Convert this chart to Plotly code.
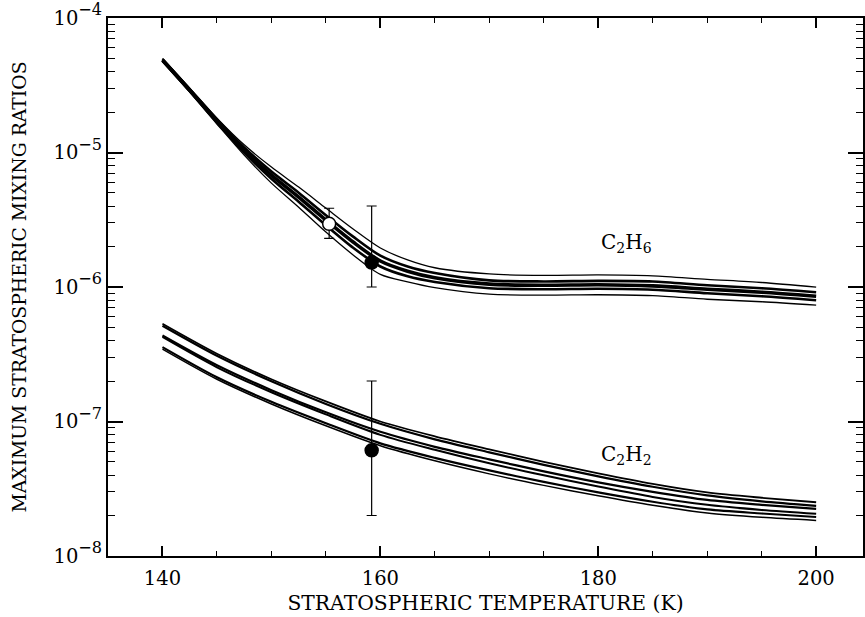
import math
import plotly.graph_objects as go

# ---------------- data ----------------
# C2H6 family of model curves (temperature grid, K)
T6 = [140, 142.5, 145, 147.5, 150, 152.5, 155, 157.5, 160, 162.5, 165, 170, 175, 180, 185, 190, 195, 200]
c2h6_outer_hi = [5.00e-5, 3.01e-5, 1.80e-5, 1.14e-5, 7.79e-6, 5.53e-6, 3.86e-6, 2.70e-6, 1.95e-6, 1.59e-6, 1.39e-6, 1.25e-6, 1.22e-6, 1.23e-6, 1.21e-6, 1.14e-6, 1.08e-6, 9.97e-7]
c2h6_inner_hi = [4.94e-5, 2.96e-5, 1.76e-5, 1.09e-5, 7.21e-6, 5.03e-6, 3.42e-6, 2.37e-6, 1.71e-6, 1.42e-6, 1.27e-6, 1.12e-6, 1.10e-6, 1.11e-6, 1.10e-6, 1.03e-6, 9.80e-7, 9.15e-7]
c2h6_mid      = [4.87e-5, 2.91e-5, 1.71e-5, 1.04e-5, 6.79e-6, 4.66e-6, 3.14e-6, 2.16e-6, 1.56e-6, 1.31e-6, 1.17e-6, 1.05e-6, 1.03e-6, 1.04e-6, 1.02e-6, 9.63e-7, 9.15e-7, 8.54e-7]
c2h6_inner_lo = [4.80e-5, 2.86e-5, 1.67e-5, 9.98e-6, 6.39e-6, 4.31e-6, 2.88e-6, 1.96e-6, 1.42e-6, 1.20e-6, 1.09e-6, 9.80e-7, 9.63e-7, 9.71e-7, 9.55e-7, 8.99e-7, 8.54e-7, 7.98e-7]
c2h6_outer_lo = [4.75e-5, 2.81e-5, 1.63e-5, 9.56e-6, 5.92e-6, 3.92e-6, 2.56e-6, 1.73e-6, 1.24e-6, 1.09e-6, 9.88e-7, 8.84e-7, 8.69e-7, 8.76e-7, 8.62e-7, 8.11e-7, 7.77e-7, 7.32e-7]

# C2H2 family of model curves
T2 = [140, 145, 150, 155, 160, 165, 170, 175, 180, 185, 190, 195, 200]
c2h2_a = [5.33e-7, 3.19e-7, 2.06e-7, 1.41e-7, 1.00e-7, 7.76e-8, 6.21e-8, 5.01e-8, 4.12e-8, 3.44e-8, 2.97e-8, 2.71e-8, 2.51e-8]
c2h2_b = [5.15e-7, 3.08e-7, 1.99e-7, 1.35e-7, 9.61e-8, 7.37e-8, 5.90e-8, 4.76e-8, 3.91e-8, 3.27e-8, 2.82e-8, 2.55e-8, 2.36e-8]
c2h2_c = [4.36e-7, 2.62e-7, 1.71e-7, 1.17e-7, 8.38e-8, 6.48e-8, 5.23e-8, 4.26e-8, 3.53e-8, 3.00e-8, 2.61e-8, 2.40e-8, 2.24e-8]
c2h2_d = [4.25e-7, 2.53e-7, 1.65e-7, 1.13e-7, 7.96e-8, 6.16e-8, 4.89e-8, 3.98e-8, 3.29e-8, 2.75e-8, 2.40e-8, 2.20e-8, 2.06e-8]
c2h2_e = [3.57e-7, 2.13e-7, 1.40e-7, 9.70e-8, 6.88e-8, 5.37e-8, 4.33e-8, 3.56e-8, 2.97e-8, 2.53e-8, 2.22e-8, 2.07e-8, 1.95e-8]
c2h2_f = [3.45e-7, 2.06e-7, 1.35e-7, 9.29e-8, 6.60e-8, 5.10e-8, 4.08e-8, 3.35e-8, 2.80e-8, 2.38e-8, 2.09e-8, 1.94e-8, 1.84e-8]

# Observations (open circle first, then filled C2H6, filled C2H2)
obs_T = [155.3, 159.2, 159.2]
obs_val = [2.95e-6, 1.52e-6, 6.1e-8]
obs_hi = [3.85e-6, 4.0e-6, 2.0e-7]
obs_lo = [2.3e-6, 1.0e-6, 2.0e-8]
obs_fill = ["white", "black", "black"]

# Curve labels
label_text = ["C<sub>2</sub>H<sub>6</sub>", "C<sub>2</sub>H<sub>2</sub>"]
label_T = [182.6, 182.6]
label_val = [2.12e-6, 5.6e-8]

# Axis ticks
x_ticks = [140, 160, 180, 200]
y_tick_exp = [-8, -7, -6, -5, -4]

# ---------------- figure ----------------
FONT = "DejaVu Serif"
fig = go.Figure()

c2h6_lines = [(c2h6_outer_hi, 1.3), (c2h6_inner_hi, 2.6), (c2h6_mid, 3.6),
              (c2h6_inner_lo, 2.6), (c2h6_outer_lo, 1.3)]
for vals, w in c2h6_lines:
    fig.add_trace(go.Scatter(x=T6, y=vals, mode="lines",
                             line=dict(color="black", width=w, shape="spline", smoothing=0.8),
                             showlegend=False, hoverinfo="skip"))

c2h2_lines = [(c2h2_a, 1.8), (c2h2_b, 2.2), (c2h2_c, 2.2), (c2h2_d, 2.0), (c2h2_e, 2.2), (c2h2_f, 1.5)]
for vals, w in c2h2_lines:
    fig.add_trace(go.Scatter(x=T2, y=vals, mode="lines",
                             line=dict(color="black", width=w, shape="spline", smoothing=0.8),
                             showlegend=False, hoverinfo="skip"))

fig.add_trace(go.Scatter(
    x=obs_T, y=obs_val, mode="markers",
    marker=dict(size=13, color=obs_fill, line=dict(color="black", width=1.5), symbol="circle"),
    error_y=dict(type="data", symmetric=False,
                 array=[h - v for h, v in zip(obs_hi, obs_val)],
                 arrayminus=[v - l for v, l in zip(obs_val, obs_lo)],
                 color="black", thickness=1.2, width=5),
    showlegend=False, hoverinfo="skip"))

for txt, t, v in zip(label_text, label_T, label_val):
    fig.add_annotation(x=t, y=math.log10(v), text=txt, showarrow=False,
                       font=dict(family=FONT, size=20, color="black"))

minor_y = [m * 10 ** e for e in range(-8, -4) for m in range(2, 10)]

fig.update_xaxes(
    range=[135, 204.3], showline=True, linecolor="black", linewidth=2, mirror="allticks",
    ticks="inside", ticklen=10, tickwidth=1.5, tickcolor="black",
    tickmode="array", tickvals=x_ticks, ticktext=[str(t) for t in x_ticks],
    minor=dict(ticks="inside", ticklen=5, tickwidth=1.2, tickcolor="black", dtick=5, tick0=135),
    showgrid=False, zeroline=False, ticklabelstandoff=4,
    tickfont=dict(family=FONT, size=19.5, color="black"),
    title=dict(text="STRATOSPHERIC TEMPERATURE (K)", font=dict(family=FONT, size=20.3, color="black"), standoff=6),
)
fig.update_yaxes(
    type="log", range=[-8, -4], showline=True, linecolor="black", linewidth=2, mirror="ticks",
    ticks="inside", ticklen=15, tickwidth=1.5, tickcolor="black",
    tickmode="array", tickvals=[10 ** e for e in y_tick_exp],
    ticktext=["10<span style=\"font-size:23px\"><sup>\u2212%d</sup></span>" % (-e) for e in y_tick_exp],
    minor=dict(ticks="inside", ticklen=7, tickwidth=1.2, tickcolor="black", tickmode="array", tickvals=minor_y),
    showgrid=False, zeroline=False,
    tickfont=dict(family=FONT, size=19.5, color="black"),
    title=dict(text="MAXIMUM STRATOSPHERIC MIXING RATIOS", font=dict(family=FONT, size=18.8, color="black"), standoff=22),
)

fig.update_layout(
    width=865, height=617,
    margin=dict(l=108, r=0, t=18, b=61),
    paper_bgcolor="white", plot_bgcolor="white",
    font=dict(family=FONT, color="black"),
)

fig.write_html("out.html")
